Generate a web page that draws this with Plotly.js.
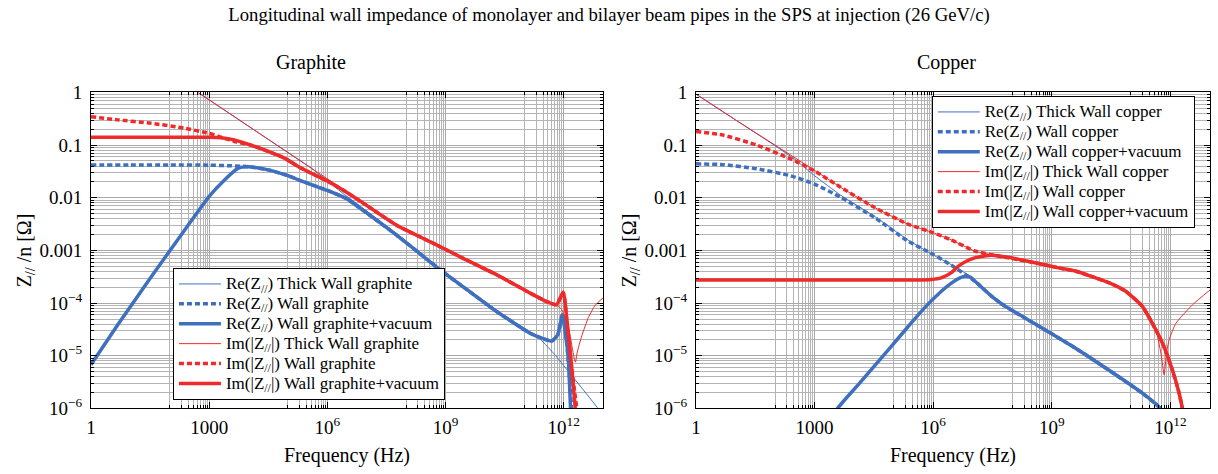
<!DOCTYPE html>
<html><head><meta charset="utf-8">
<script src="https://cdn.plot.ly/plotly-3.0.1.min.js"></script>
<style>body{margin:0;background:#fff;} #chart{width:1218px;height:474px;}</style>
</head><body><div id="chart"></div>
<script>
// Values stored as log10(frequency / Hz) and log10(|Z|/n / Ohm).
// ---------- Graphite ----------
const gReThickLogF = [2.72, 4.0, 5.0, 5.6, 6.0, 6.44, 6.91, 7.76, 8.6, 9.03, 9.45, 10.3, 11.0, 11.4, 11.8, 12.2, 12.6, 13.0];
const gReThickLogZ = [0, -0.64, -1.14, -1.44, -1.68, -1.94, -2.2, -2.68, -3.19, -3.44, -3.67, -4.13, -4.48, -4.68, -5.0, -5.37, -5.74, -6.12];

const gReWallLogF = [0, 1, 2, 3, 3.5, 3.8, 4.0, 4.5, 5.0, 5.34, 6.0, 6.5, 6.91, 7.76, 8.6, 9.03, 9.45, 10.3, 11.15, 11.5, 11.7, 11.85, 11.97, 12.05, 12.13, 12.2, 12.24];
const gReWallLogZ = [-1.375, -1.375, -1.376, -1.38, -1.39, -1.40, -1.41, -1.47, -1.58, -1.68, -1.86, -2.02, -2.24, -2.71, -3.21, -3.46, -3.69, -4.16, -4.57, -4.68, -4.72, -4.6, -4.22, -4.55, -5.2, -6.0, -6.6];

const gReVacLogF = [0, 0.68, 1.53, 2.38, 2.99, 3.39, 3.73, 3.99, 4.5, 5.0, 5.34, 6.0, 6.5, 6.91, 7.76, 8.6, 9.03, 9.45, 10.3, 11.15, 11.5, 11.7, 11.85, 11.97, 12.04, 12.12, 12.17, 12.21];
const gReVacLogZ = [-5.17, -4.41, -3.50, -2.61, -1.98, -1.66, -1.44, -1.41, -1.47, -1.58, -1.68, -1.86, -2.02, -2.24, -2.71, -3.21, -3.46, -3.69, -4.16, -4.57, -4.68, -4.72, -4.6, -4.22, -4.55, -5.07, -5.9, -6.6];

const gImThickLogF = [2.72, 3.5, 4.5, 5.5, 6.0, 6.44, 6.91, 7.76, 8.6, 9.03, 9.45, 10.3, 11.15, 11.57, 11.8, 11.95, 12.05, 12.12, 12.21, 12.27, 12.3, 12.34, 12.46, 12.63, 12.8, 13.0];
const gImThickLogZ = [0, -0.39, -0.89, -1.39, -1.64, -1.86, -2.1, -2.52, -2.83, -2.99, -3.15, -3.46, -3.81, -3.97, -4.02, -4.12, -4.3, -4.45, -4.81, -5.05, -5.12, -4.95, -4.62, -4.27, -4.04, -3.9];

const gImWallLogF = [0, 0.68, 1.53, 2.38, 2.99, 3.39, 3.64, 4.06, 4.5, 4.92, 5.34, 6.0, 6.44, 6.91, 7.76, 8.6, 9.03, 9.45, 10.3, 11.15, 11.57, 11.82, 11.99, 12.1, 12.2, 12.3, 12.36, 12.4];
const gImWallLogZ = [-0.46, -0.52, -0.585, -0.68, -0.775, -0.87, -0.93, -1.0, -1.12, -1.25, -1.44, -1.68, -1.87, -2.1, -2.52, -2.83, -2.99, -3.15, -3.46, -3.81, -3.97, -4.03, -3.8, -4.5, -5.2, -5.8, -6.2, -6.6];

const gImVacLogF = [0, 1, 2, 3, 3.3, 3.64, 4.06, 4.5, 4.92, 5.34, 6.0, 6.44, 6.91, 7.76, 8.6, 9.03, 9.45, 10.3, 11.15, 11.57, 11.82, 11.99, 12.08, 12.16, 12.29, 12.33];
const gImVacLogZ = [-0.85, -0.85, -0.85, -0.852, -0.86, -0.9, -1.0, -1.12, -1.25, -1.44, -1.68, -1.87, -2.1, -2.52, -2.83, -2.99, -3.15, -3.46, -3.81, -3.97, -4.03, -3.79, -4.3, -4.86, -5.96, -6.5];

// ---------- Copper ----------
const cReThickLogF = [0, 1, 2, 2.5, 3.0, 3.66, 4.51, 5.36, 5.99, 6.46, 6.85, 7.05, 7.48, 7.8, 8.32, 8.75, 9.59, 10.44, 11.29, 11.71, 11.9];
const cReThickLogZ = [-0.03, -0.52, -1.01, -1.27, -1.58, -1.95, -2.35, -2.8, -3.08, -3.27, -3.45, -3.58, -3.87, -4.05, -4.28, -4.47, -4.85, -5.27, -5.71, -5.94, -6.1];

const cReWallLogF = [0, 0.69, 1.54, 2.39, 3.0, 3.66, 4.51, 5.36, 5.99, 6.46, 7.05, 7.48, 7.8, 8.32, 8.75, 9.59, 10.44, 11.29, 11.71, 11.85];
const cReWallLogZ = [-1.355, -1.37, -1.45, -1.58, -1.74, -1.99, -2.37, -2.82, -3.07, -3.28, -3.58, -3.87, -4.05, -4.28, -4.47, -4.85, -5.27, -5.71, -5.97, -6.1];

const cReVacLogF = [3.5, 3.58, 4.09, 4.93, 5.44, 5.78, 6.2, 6.46, 6.65, 6.8, 6.95, 7.05, 7.48, 7.8, 8.32, 8.75, 9.59, 10.44, 11.29, 11.71, 11.85];
const cReVacLogZ = [-6.15, -6.0, -5.56, -4.83, -4.38, -4.09, -3.78, -3.62, -3.53, -3.49, -3.51, -3.58, -3.87, -4.05, -4.28, -4.47, -4.85, -5.27, -5.71, -5.97, -6.1];

const cImThickLogF = [0, 1, 2, 3.0, 3.66, 4.51, 5.36, 5.99, 6.46, 7.05, 7.6, 7.9, 8.75, 9.17, 9.59, 10.44, 10.86, 11.29, 11.46, 11.63, 11.76, 11.84, 11.9, 11.97, 12.14, 12.56, 13.0];
const cImThickLogZ = [-0.03, -0.52, -1.0, -1.48, -1.8, -2.18, -2.5, -2.66, -2.8, -3.01, -3.1, -3.14, -3.26, -3.33, -3.39, -3.61, -3.77, -4.06, -4.22, -4.5, -4.95, -5.36, -4.95, -4.69, -4.38, -4.03, -3.75];

const cImWallLogF = [0, 0.69, 1.54, 2.39, 3.0, 3.66, 4.51, 5.36, 5.99, 6.46, 7.05, 7.6, 7.9, 8.75, 9.17, 9.59, 10.44, 10.86, 11.29, 11.54, 11.8, 12.05, 12.22, 12.31, 12.36];
const cImWallLogZ = [-0.74, -0.81, -1.0, -1.26, -1.49, -1.8, -2.18, -2.5, -2.66, -2.8, -3.01, -3.1, -3.14, -3.26, -3.33, -3.39, -3.61, -3.77, -4.06, -4.38, -4.76, -5.27, -5.71, -6.03, -6.3];

const cImVacLogF = [0, 3, 5.5, 5.95, 6.2, 6.46, 6.63, 6.85, 7.05, 7.48, 7.9, 8.75, 9.17, 9.59, 10.44, 10.86, 11.29, 11.54, 11.8, 12.05, 12.22, 12.31, 12.36];
const cImVacLogZ = [-3.56, -3.56, -3.56, -3.55, -3.52, -3.42, -3.3, -3.2, -3.14, -3.09, -3.13, -3.26, -3.33, -3.39, -3.61, -3.77, -4.06, -4.38, -4.76, -5.27, -5.71, -6.03, -6.3];

// tick labels
const xTickVals = [1, 1e3, 1e6, 1e9, 1e12];
const xTickText = ['1', '1000', '10<sup>6</sup>', '10<sup>9</sup>', '10<sup>12</sup>'];
const yTickVals = [1e-6, 1e-5, 1e-4, 1e-3, 1e-2, 1e-1, 1];
const yTickText = ['10<sup>\u22126</sup>', '10<sup>\u22125</sup>', '10<sup>\u22124</sup>', '0.001', '0.01', '0.1', '1'];

const FONT = 'Liberation Serif, Times New Roman, serif';
const BLUE = '#3f6fbf', RED = '#ee2a2a';

function pow10(a){ return a.map(v => Math.pow(10, v)); }
function tr(name, lf, lz, color, style, xa, ya, leg){
  const line = {color: color, shape: 'spline', smoothing: 0.5};
  if (style === 'thin') { line.width = 1; }
  else if (style === 'dot') { line.width = 3.5; line.dash = '5px,3px'; }
  else { line.width = 3.5; }
  return {type: 'scatter', mode: 'lines', name: '<span style="font-size:17px">' + name + '</span>',
          x: pow10(lf), y: pow10(lz),
          xaxis: xa, yaxis: ya, legend: leg, line: line, hoverinfo: 'skip'};
}
const Re = 'Re(Z<sub>//</sub>) ', Im = 'Im(|Z<sub>//</sub>|) ';
const data = [
  tr(Re + 'Thick Wall graphite', gReThickLogF, gReThickLogZ, BLUE, 'thin', 'x', 'y', 'legend'),
  tr(Re + 'Wall graphite', gReWallLogF, gReWallLogZ, BLUE, 'dot', 'x', 'y', 'legend'),
  tr(Re + 'Wall graphite+vacuum', gReVacLogF, gReVacLogZ, BLUE, 'solid', 'x', 'y', 'legend'),
  tr(Im + 'Thick Wall graphite', gImThickLogF, gImThickLogZ, RED, 'thin', 'x', 'y', 'legend'),
  tr(Im + 'Wall graphite', gImWallLogF, gImWallLogZ, RED, 'dot', 'x', 'y', 'legend'),
  tr(Im + 'Wall graphite+vacuum', gImVacLogF, gImVacLogZ, RED, 'solid', 'x', 'y', 'legend'),
  tr(Re + 'Thick Wall copper', cReThickLogF, cReThickLogZ, BLUE, 'thin', 'x2', 'y2', 'legend2'),
  tr(Re + 'Wall copper', cReWallLogF, cReWallLogZ, BLUE, 'dot', 'x2', 'y2', 'legend2'),
  tr(Re + 'Wall copper+vacuum', cReVacLogF, cReVacLogZ, BLUE, 'solid', 'x2', 'y2', 'legend2'),
  tr(Im + 'Thick Wall copper', cImThickLogF, cImThickLogZ, RED, 'thin', 'x2', 'y2', 'legend2'),
  tr(Im + 'Wall copper', cImWallLogF, cImWallLogZ, RED, 'dot', 'x2', 'y2', 'legend2'),
  tr(Im + 'Wall copper+vacuum', cImVacLogF, cImVacLogZ, RED, 'solid', 'x2', 'y2', 'legend2')
];

// grid positions (Mathematica-style log grid)
const xMinor = [];
[2, 5, 8, 11].forEach(d => { for (let k = 1; k <= 9; k++) xMinor.push(k * Math.pow(10, d)); });
const yMinor = [];
for (let d = -6; d <= -1; d++) { for (let k = 2; k <= 9; k++) yMinor.push(k * Math.pow(10, d)); }

const TITLE_FONT = {family: FONT, size: 20, color: '#000'};
function xAxis(domain, anchor){
  return {type: 'log', domain: domain, anchor: anchor, range: [0, 13], autorange: false,
    tickmode: 'array', tickvals: xTickVals, ticktext: xTickText,
    ticks: 'inside', ticklen: 6, tickcolor: '#000', showline: true, linecolor: '#000', linewidth: 1,
    mirror: 'allticks', showgrid: true, gridcolor: '#a9a9a9', gridwidth: 1, zeroline: false,
    minor: {tickmode: 'array', tickvals: xMinor, showgrid: true, gridcolor: '#b4b4b4', gridwidth: 1, ticks: 'inside', ticklen: 3, tickcolor: '#000'},
    tickfont: {family: FONT, size: 19, color: '#000'}, ticklabelstandoff: 2,
    title: {text: 'Frequency (Hz)', font: TITLE_FONT, standoff: 10},
    automargin: false, fixedrange: true};
}
function yAxis(anchor){
  return {type: 'log', domain: [0.1382, 0.8049], anchor: anchor, range: [-6, 0], autorange: false,
    tickmode: 'array', tickvals: yTickVals, ticktext: yTickText,
    ticks: 'inside', ticklen: 6, tickcolor: '#000', showline: true, linecolor: '#000', linewidth: 1,
    mirror: 'allticks', showgrid: true, gridcolor: '#a9a9a9', gridwidth: 1, zeroline: false,
    minor: {tickmode: 'array', tickvals: yMinor, showgrid: true, gridcolor: '#b4b4b4', gridwidth: 1, ticks: 'inside', ticklen: 3, tickcolor: '#000'},
    tickfont: {family: FONT, size: 19, color: '#000'}, ticklabelstandoff: 4,
    title: {text: 'Z<sub>//</sub> /n [\u03A9]', font: TITLE_FONT, standoff: 2},
    automargin: false, fixedrange: true};
}
const legendBase = {bgcolor: '#fff', bordercolor: '#000', borderwidth: 1, itemwidth: 42,
  font: {family: FONT, size: 13, color: '#000'}, xanchor: 'left', yanchor: 'top', tracegroupgap: 0};

const layout = {
  width: 1218, height: 474, margin: {l: 0, r: 0, t: 0, b: 0},
  paper_bgcolor: '#fff', plot_bgcolor: '#fff',
  font: {family: FONT, size: 20, color: '#000'},
  showlegend: true,
  title: {text: 'Longitudinal wall impedance of monolayer and bilayer beam pipes in the SPS at injection (26 GeV/c)',
          font: {family: FONT, size: 18.7, color: '#000'}, x: 0.5, xanchor: 'center', y: 0.97, yanchor: 'middle', yref: 'paper'},
  xaxis: xAxis([0.0747, 0.4951], 'y'),
  yaxis: yAxis('x'),
  xaxis2: xAxis([0.5714, 0.9934], 'y2'),
  yaxis2: yAxis('x2'),
  legend: Object.assign({x: 0.142, y: 0.4346}, legendBase),
  legend2: Object.assign({x: 0.765, y: 0.7975}, legendBase),
  annotations: [
    {text: 'Graphite', xref: 'paper', yref: 'paper', x: 0.2555, y: 0.869, xanchor: 'center', yanchor: 'middle', showarrow: false, font: {family: FONT, size: 20, color: '#000'}},
    {text: 'Copper', xref: 'paper', yref: 'paper', x: 0.7775, y: 0.869, xanchor: 'center', yanchor: 'middle', showarrow: false, font: {family: FONT, size: 20, color: '#000'}}
  ]
};
Plotly.newPlot('chart', data, layout, {staticPlot: true, displayModeBar: false});
</script>
</body></html>
